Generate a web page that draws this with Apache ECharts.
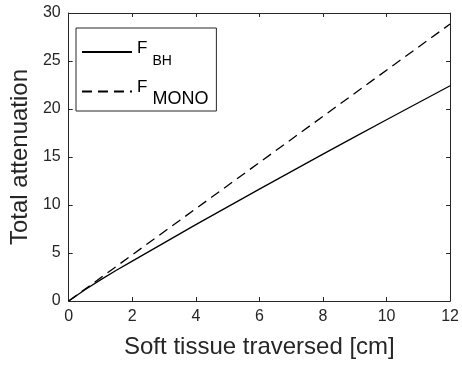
<!DOCTYPE html>
<html><head><meta charset="utf-8">
<script src="https://cdn.jsdelivr.net/npm/echarts@6/dist/echarts.min.js"></script>
<style>html,body{margin:0;padding:0;background:#fff}#c{width:462px;height:367px}</style>
</head><body><div id="c"></div>
<script>
// Data
var xValues = [0, 0.5, 1, 1.5, 2, 3, 4, 5, 6, 7, 8, 9, 10, 11, 12];
var fBH =     [0, 1.15, 2.2, 3.2, 4.15, 6.05, 7.95, 9.8, 11.65, 13.48, 15.3, 17.1, 18.88, 20.65, 22.42];
var xMono =   [0, 12];
var fMONO =   [0, 28.85];
var xTicks = [0, 2, 4, 6, 8, 10, 12];
var yTicks = [0, 5, 10, 15, 20, 25, 30];
var seriesNames = ['F_BH', 'F_MONO'];
var subscripts = {F_BH: 'BH', F_MONO: 'MONO'};
var subStyle = {F_BH: 's1', F_MONO: 's2'};

var axisColor = '#262626';
function pairs(xs, ys){ return xs.map(function(x,i){return [x, ys[i]];}); }

var chart = echarts.init(document.getElementById('c'));
var baseX = {type:'value', min:xTicks[0], max:xTicks[xTicks.length-1], interval:2,
  axisLine:{show:true, onZero:false, lineStyle:{color:axisColor, width:1}},
  axisTick:{show:true, inside:true, length:4, lineStyle:{color:axisColor}},
  splitLine:{show:false}};
var baseY = {type:'value', min:yTicks[0], max:yTicks[yTicks.length-1], interval:5,
  axisLine:{show:true, onZero:false, lineStyle:{color:axisColor, width:1}},
  axisTick:{show:true, inside:true, length:4, lineStyle:{color:axisColor}},
  splitLine:{show:false}};

chart.setOption({
  animation:false,
  backgroundColor:'#fff',
  grid:{left:64, right:8, top:13, bottom:66},
  xAxis:[
    Object.assign({}, baseX, {position:'bottom',
      axisLabel:{color:axisColor, fontSize:16, fontFamily:'Liberation Sans', margin:8},
      name:'Soft tissue traversed [cm]', nameLocation:'middle', nameGap:34,
      nameTextStyle:{color:axisColor, fontSize:24, fontFamily:'Liberation Sans'}}),
    Object.assign({}, baseX, {position:'top', axisLabel:{show:false}})
  ],
  yAxis:[
    Object.assign({}, baseY, {position:'left',
      axisLabel:{color:axisColor, fontSize:16, fontFamily:'Liberation Sans', margin:8},
      name:'Total attenuation', nameLocation:'middle', nameGap:34,
      nameTextStyle:{color:axisColor, fontSize:24, fontFamily:'Liberation Sans'}}),
    Object.assign({}, baseY, {position:'right', axisLabel:{show:false}})
  ],
  legend:{
    data:seriesNames, orient:'vertical', left:76, top:28,
    backgroundColor:'#fff', borderColor:axisColor, borderWidth:1,
    padding:[12,8,3,5], itemWidth:50, itemHeight:14, itemGap:11,
    itemStyle:{opacity:0},
    formatter:function(n){ return '{f|F}{' + subStyle[n] + '|' + subscripts[n] + '}'; },
    textStyle:{color:'#000', fontFamily:'Liberation Sans',
      rich:{
        f:{fontSize:17, fontFamily:'Liberation Sans', color:'#000', verticalAlign:'top', padding:[4,5,0,0]},
        s1:{fontSize:14, fontFamily:'Liberation Sans', color:'#000', verticalAlign:'top', padding:[18,0,0,0]},
        s2:{fontSize:18, fontFamily:'Liberation Sans', color:'#000', verticalAlign:'top', padding:[15,0,0,0]}
      }}
  },
  series:[
    {name:'F_BH', type:'line', data:pairs(xValues, fBH), showSymbol:false, symbol:'none',
      lineStyle:{color:'#000', width:1.3, type:'solid'}, itemStyle:{color:'#000'}},
    {name:'F_MONO', type:'line', data:pairs(xMono, fMONO), showSymbol:false, symbol:'none',
      lineStyle:{color:'#000', width:1.3, type:[10,6]}, itemStyle:{color:'#000'}}
  ]
});
</script></body></html>
